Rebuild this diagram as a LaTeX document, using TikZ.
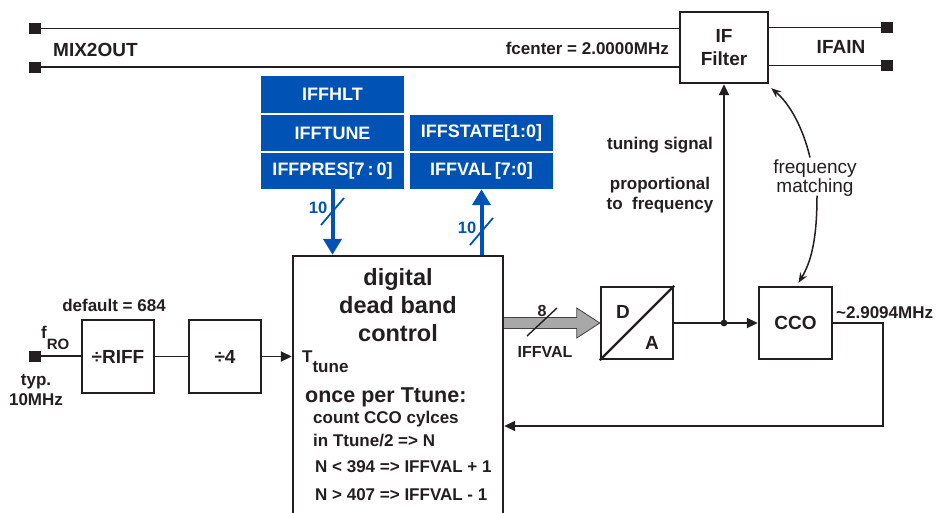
\documentclass[tikz,border=0pt]{standalone}
\usepackage{fontspec}
\setmainfont{Liberation Sans}
\usetikzlibrary{arrows.meta,calc}
\definecolor{ink}{RGB}{35,31,32}
\definecolor{regblue}{RGB}{0,82,180}
\definecolor{busgray}{RGB}{168,168,168}
\newcommand{\fsz}[2]{\fontsize{#1}{#2}\selectfont}
\begin{document}
\begin{tikzpicture}[x=1pt,y=-1pt,
  every node/.style={inner sep=0pt, text=ink},
  blk/.style={draw=ink, line width=2.4pt, font=\bfseries\fsz{19}{23}, align=center},
  regbox/.style={fill=regblue, text=white, font=\bfseries\fsz{18}{18}, minimum width=143pt, minimum height=36pt},
  lbl/.style={font=\bfseries\fsz{17}{20}},
  pin/.style={fill=ink, minimum width=12pt, minimum height=11pt},
  wire/.style={draw=ink, line width=1.9pt},
  arr/.style={wire, -{Triangle[length=11pt,width=10pt]}},
  thinarr/.style={draw=ink, line width=1.5pt, -{Stealth[length=10pt,width=8pt]}},
  barr/.style={draw=regblue, line width=4pt, -{Triangle[length=16pt,width=18pt]}},
  bslash/.style={draw=regblue, line width=1.8pt},
  blbl/.style={text=regblue, font=\bfseries\fsz{16.5}{16.5}},
]
\useasboundingbox (0,0) rectangle (937,512);
\fill[white] (0,0) rectangle (937,512);
\clip (0,0) rectangle (937,512);

% ---- top IF path ----
\node[pin] (pTL) at (34.5,28.5) {};
\node[pin] (pBL) at (34.5,67) {};
\node[pin] (pTR) at (886.5,27.5) {};
\node[pin] (pBR) at (886.5,65.5) {};
\node[blk, minimum width=88pt, minimum height=71pt] (iff) at (724,47.5) {IF\\Filter};
\draw[wire] (pTL.center) -- (pTL.center -| iff.west);
\draw[wire] (pBL.center) -- (pBL.center -| iff.west);
\draw[wire] (pTR.center -| iff.east) -- (pTR.center);
\draw[wire] (pBR.center -| iff.east) -- (pBR.center);
\node[font=\bfseries\fsz{19}{19}, anchor=west] (mix) at (53,50) {MIX2OUT};
\node[font=\bfseries\fsz{17}{17}, anchor=east] (fc) at (669,48) {fcenter = 2.0000MHz};
\node[font=\bfseries\fsz{19}{19}] (ifain) at (841,47) {IFAIN};

% ---- registers ----
\node[regbox, minimum height=37pt] (hlt) at (332.5,94.5) {IFFHLT};
\node[regbox] (tune) at (332.5,133) {IFFTUNE};
\node[regbox] (pres) at (332.5,171) {IFFPRES[7\,:\,0]};
\node[regbox] (state) at (481.5,133) {IFFSTATE[1:0]};
\node[regbox] (val) at (481.5,171) {IFFVAL\,[7:0]};

% ---- digital dead band control ----
\node[draw=ink, line width=2.4pt, minimum width=210pt, minimum height=264pt] (dig) at (398,388) {};
\node[font=\bfseries\fsz{23.5}{28}, align=center] (title) at (398,305) {digital\\dead band\\control};
\node[lbl, anchor=base west] (tt) at (302,362) {T\raisebox{-10pt}{tune}};
\node[font=\bfseries\fsz{21.5}{21.5}, anchor=west] (once) at (305,397) {once per Ttune:};
\node[lbl, anchor=west] (c1) at (313,419) {count CCO cylces};
\node[lbl, anchor=west] (c2) at (313,441) {in Ttune/2 => N};
\node[lbl, anchor=west] (c3) at (315,467) {N < 394 => IFFVAL + 1};
\node[lbl, anchor=west] (c4) at (315,495) {N > 407 => IFFVAL - 1};

\draw[barr] (pres.south) -- (pres.south |- dig.north);
\draw[barr] (val.south |- dig.north) -- (val.south);
\draw[bslash] (321,225) -- (344,198);
\node[blbl] (n10a) at (318,208) {10};
\draw[bslash] (470,245) -- (493,218);
\node[blbl] (n10b) at (467,228) {10};

% ---- input chain ----
\node[pin] (fro) at (34.5,356) {};
\node[blk, minimum width=72pt, minimum height=73pt] (riff) at (118,356.5) {÷RIFF};
\node[blk, minimum width=72pt, minimum height=73pt] (div4) at (225,356.5) {÷4};
\draw[wire] (fro.center) -- (riff.west |- fro.center);
\draw[wire] (riff.east) -- (div4.west);
\draw[arr] (div4.east) -- (div4.east -| dig.west);
\node[lbl] (dflt) at (114,305) {default = 684};
\node[anchor=base west, font=\bfseries\fsz{17}{17}] (froLbl) at (41,338) {f\raisebox{-11pt}{\fsz{15}{15}RO}};
\node[lbl, align=center] (typ) at (36,390) {typ.\\10MHz};

% ---- D/A, CCO ----
\node[blk, minimum width=72pt, minimum height=72pt] (da) at (637,323) {};
\draw[ink, line width=2.2pt] (da.south west) -- (da.north east);
\node[font=\bfseries\fsz{19}{19}] (dL) at (623,312) {D};
\node[font=\bfseries\fsz{19}{19}] (aL) at (652,343) {A};
\node[blk, minimum width=73pt, minimum height=72pt] (cco) at (795.5,323) {CCO};

\coordinate (bs) at (dig.east |- da.west);
\filldraw[fill=busgray, draw=ink!85, line width=0.8pt]
  ($(bs)+(0,-5.5)$) -- ($(da.west)+(-23,-5.5)$) -- ($(da.west)+(-23,-15)$) -- (da.west)
  -- ($(da.west)+(-23,15)$) -- ($(da.west)+(-23,5.5)$) -- ($(bs)+(0,5.5)$);
\draw[ink, line width=1.4pt] (527,336) -- (557,308);
\node[font=\bfseries\fsz{16}{16}] (n8) at (542,311) {8};
\node[font=\bfseries\fsz{16}{16}] (busL) at (545,352) {IFFVAL};

\coordinate (j) at (iff.south |- da.east);
\draw[arr] (da.east) -- (cco.west);
\fill[ink] (j) circle (3.4pt);
\draw[arr] (j) -- (iff.south);
\node[lbl, align=center] (ts) at (660,145) {tuning signal};
\node[lbl, align=center] (pf) at (660,195) {proportional\\to\ \ frequency};

\node[font=\bfseries\fsz{17}{17}, anchor=west] (fco) at (836,313) {\textasciitilde 2.9094MHz};
\coordinate (fb1) at (883,323);
\coordinate (fb2) at (883,426);
\draw[arr] (cco.east) -- (fb1) -- (fb2) -- (fb2 -| dig.east);

% ---- frequency matching ----
\node[font=\fsz{19}{19}, align=center] (fm) at (815,178) {frequency\\matching};
\draw[thinarr] ([shift={(-5,-2)}]fm.north) .. controls (803,128) and (790,104) .. ([shift={(2,4)}]iff.south east);
\draw[thinarr] ([shift={(2,-1)}]fm.south) .. controls (817,240) and (811,262) .. ([shift={(3,-3)}]cco.north);
\end{tikzpicture}
\end{document}
